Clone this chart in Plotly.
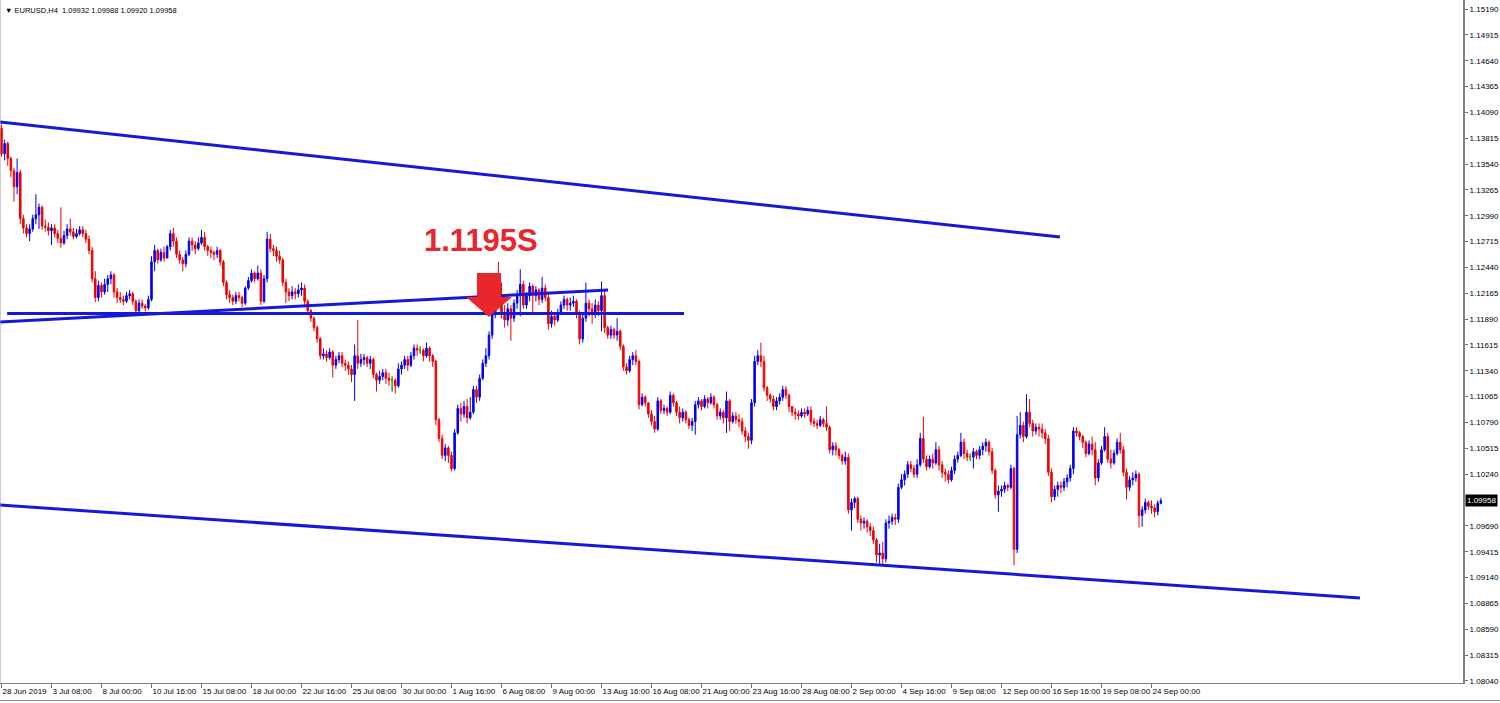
import plotly.graph_objects as go

# ---------------- DATA (EURUSD H4) ----------------
first_open = 1.1392

closes = [
    1.1365, 1.1376,                                    # 28 Jun
    1.1360, 1.1347, 1.1330, 1.1345, 1.1296, 1.1286,    # 1 Jul
    1.1280, 1.1285, 1.1296, 1.1300, 1.1308, 1.1288,    # 2 Jul
    1.1287, 1.1283, 1.1286, 1.1280, 1.1275, 1.1270,    # 3 Jul
    1.1278, 1.1285, 1.1282, 1.1277, 1.1280, 1.1284,    # 4 Jul
    1.1280, 1.1274, 1.1262, 1.1232, 1.1212, 1.1225,    # 5 Jul
    1.1218, 1.1226, 1.1232, 1.1236, 1.1218, 1.1212,    # 8 Jul
    1.1210, 1.1208, 1.1214, 1.1216, 1.1208, 1.1198,    # 9 Jul
    1.1206, 1.1203, 1.1201, 1.1210, 1.1250, 1.1262,    # 10 Jul
    1.1252, 1.1260, 1.1254, 1.1266, 1.1280, 1.1272,    # 11 Jul
    1.1258, 1.1252, 1.1248, 1.1258, 1.1272, 1.1268,    # 12 Jul
    1.1264, 1.1270, 1.1276, 1.1266, 1.1262, 1.1260,    # 15 Jul
    1.1258, 1.1262, 1.1250, 1.1228, 1.1215, 1.1212,    # 16 Jul
    1.1208, 1.1214, 1.1212, 1.1206, 1.1222, 1.1230,    # 17 Jul
    1.1238, 1.1232, 1.1238, 1.1208, 1.1232, 1.1274,    # 18 Jul
    1.1264, 1.1262, 1.1256, 1.1252, 1.1228, 1.1218,    # 19 Jul
    1.1214, 1.1218, 1.1216, 1.1220, 1.1222, 1.1208,    # 22 Jul
    1.1198, 1.1190, 1.1180, 1.1168, 1.1150, 1.1152,    # 23 Jul
    1.1148, 1.1154, 1.1140, 1.1146, 1.1150, 1.1142,    # 24 Jul
    1.1140, 1.1136, 1.1130, 1.1150, 1.1142, 1.1146,    # 25 Jul
    1.1148, 1.1142, 1.1146, 1.1130, 1.1124, 1.1128,    # 26 Jul
    1.1132, 1.1126, 1.1124, 1.1124, 1.1118, 1.1136,    # 29 Jul
    1.1140, 1.1146, 1.1140, 1.1150, 1.1158, 1.1156,    # 30 Jul
    1.1156, 1.1150, 1.1158, 1.1150, 1.1144, 1.1082,    # 31 Jul
    1.1062, 1.1044, 1.1052, 1.1044, 1.1030, 1.1068,    # 1 Aug
    1.1094, 1.1088, 1.1096, 1.1084, 1.1090, 1.1114,    # 2 Aug
    1.1106, 1.1126, 1.1142, 1.1150, 1.1172, 1.1194,    # 5 Aug
    1.1226, 1.1212, 1.1196, 1.1188, 1.1200, 1.1190,    # 6 Aug
    1.1206, 1.1214, 1.1226, 1.1204, 1.1214, 1.1224,    # 7 Aug
    1.1214, 1.1220, 1.1210, 1.1222, 1.1212, 1.1184,    # 8 Aug
    1.1192, 1.1188, 1.1196, 1.1204, 1.1210, 1.1204,    # 9 Aug
    1.1206, 1.1208, 1.1196, 1.1168, 1.1190, 1.1206,    # 12 Aug
    1.1200, 1.1194, 1.1204, 1.1198, 1.1214, 1.1180,    # 13 Aug
    1.1172, 1.1178, 1.1172, 1.1176, 1.1160, 1.1138,    # 14 Aug
    1.1134, 1.1146, 1.1150, 1.1144, 1.1098, 1.1106,    # 15 Aug
    1.1100, 1.1088, 1.1080, 1.1072, 1.1102, 1.1092,    # 16 Aug
    1.1094, 1.1090, 1.1108, 1.1100, 1.1090, 1.1084,    # 19 Aug
    1.1090, 1.1082, 1.1076, 1.1080, 1.1098, 1.1102,    # 20 Aug
    1.1096, 1.1104, 1.1100, 1.1106, 1.1098, 1.1086,    # 21 Aug
    1.1090, 1.1084, 1.1102, 1.1080, 1.1086, 1.1082,    # 22 Aug
    1.1080, 1.1070, 1.1064, 1.1060, 1.1100, 1.1144,    # 23 Aug
    1.1150, 1.1144, 1.1116, 1.1108, 1.1104, 1.1096,    # 26 Aug
    1.1102, 1.1106, 1.1114, 1.1108, 1.1096, 1.1090,    # 27 Aug
    1.1088, 1.1086, 1.1090, 1.1088, 1.1092, 1.1080,    # 28 Aug
    1.1078, 1.1076, 1.1082, 1.1078, 1.1074, 1.1050,    # 29 Aug
    1.1054, 1.1050, 1.1044, 1.1038, 1.1042, 1.0986,    # 30 Aug
    1.0994, 1.0998, 1.0976, 1.0972, 1.0974, 1.0968,    # 2 Sep
    1.0964, 1.0954, 1.0938, 1.0940, 1.0934, 1.0972,    # 3 Sep
    1.0974, 1.0978, 1.0976, 1.1010, 1.1018, 1.1024,    # 4 Sep
    1.1034, 1.1030, 1.1024, 1.1034, 1.1062, 1.1040,    # 5 Sep
    1.1032, 1.1040, 1.1036, 1.1050, 1.1034, 1.1026,    # 6 Sep
    1.1024, 1.1018, 1.1028, 1.1040, 1.1044, 1.1058,    # 9 Sep
    1.1046, 1.1042, 1.1042, 1.1048, 1.1044, 1.1050,    # 10 Sep
    1.1054, 1.1058, 1.1048, 1.1028, 1.1002, 1.1006,    # 11 Sep
    1.1008, 1.1012, 1.1010, 1.1030, 1.0944, 1.1066,    # 12 Sep
    1.1076, 1.1064, 1.1090, 1.1078, 1.1070, 1.1074,    # 13 Sep
    1.1072, 1.1068, 1.1062, 1.1026, 1.1000, 1.1008,    # 16 Sep
    1.1012, 1.1010, 1.1016, 1.1020, 1.1030, 1.1070,    # 17 Sep
    1.1068, 1.1064, 1.1058, 1.1046, 1.1056, 1.1050,    # 18 Sep
    1.1020, 1.1036, 1.1050, 1.1064, 1.1040, 1.1036,    # 19 Sep
    1.1046, 1.1058, 1.1050, 1.1026, 1.1010, 1.1018,    # 20 Sep
    1.1020, 1.1024, 1.0980, 1.0986, 1.0994, 1.0990,    # 23 Sep
    1.0988, 1.0984, 1.09932, 1.09958,                  # 24 Sep
]

highs = [
    1.1396, 1.1380,
    1.1378, 1.1362, 1.1350, 1.1360, 1.1348, 1.1300,
    1.1290, 1.1290, 1.1300, 1.1322, 1.1312, 1.1310,
    1.1295, 1.1292, 1.1290, 1.1290, 1.1284, 1.1308,
    1.1283, 1.1290, 1.1296, 1.1286, 1.1285, 1.1288,
    1.1288, 1.1284, 1.1278, 1.1266, 1.1240, 1.1230,
    1.1228, 1.1232, 1.1236, 1.1240, 1.1238, 1.1222,
    1.1218, 1.1214, 1.1218, 1.1220, 1.1218, 1.1210,
    1.1210, 1.1210, 1.1205, 1.1214, 1.1256, 1.1268,
    1.1264, 1.1264, 1.1266, 1.1268, 1.1284, 1.1286,
    1.1276, 1.1262, 1.1255, 1.1262, 1.1276, 1.1276,
    1.1272, 1.1276, 1.1284, 1.1282, 1.1268, 1.1266,
    1.1262, 1.1266, 1.1264, 1.1252, 1.1230, 1.1220,
    1.1215, 1.1218, 1.1218, 1.1214, 1.1224, 1.1234,
    1.1242, 1.1240, 1.1246, 1.1242, 1.1236, 1.1282,
    1.1280, 1.1268, 1.1266, 1.1262, 1.1254, 1.1232,
    1.1222, 1.1224, 1.1222, 1.1226, 1.1228, 1.1226,
    1.1210, 1.1200, 1.1192, 1.1182, 1.1170, 1.1158,
    1.1156, 1.1158, 1.1156, 1.1150, 1.1154, 1.1154,
    1.1146, 1.1144, 1.1140, 1.1162, 1.1188, 1.1152,
    1.1152, 1.1150, 1.1150, 1.1148, 1.1132, 1.1134,
    1.1136, 1.1136, 1.1132, 1.1128, 1.1126, 1.1142,
    1.1144, 1.1150, 1.1150, 1.1154, 1.1162, 1.1162,
    1.1160, 1.1158, 1.1164, 1.1160, 1.1152, 1.1146,
    1.1084, 1.1066, 1.1056, 1.1054, 1.1048, 1.1072,
    1.1098, 1.1100, 1.1102, 1.1104, 1.1106, 1.1118,
    1.1118, 1.1130, 1.1146, 1.1158, 1.1176, 1.1198,
    1.1238, 1.1250, 1.1228, 1.1204, 1.1206, 1.1204,
    1.1210, 1.1220, 1.1242, 1.1230, 1.1218, 1.1228,
    1.1226, 1.1224, 1.1222, 1.1234, 1.1226, 1.1216,
    1.1198, 1.1196, 1.1200, 1.1208, 1.1214, 1.1212,
    1.1212, 1.1214, 1.1210, 1.1198, 1.1194, 1.1228,
    1.1210, 1.1206, 1.1210, 1.1208, 1.1229, 1.1220,
    1.1182, 1.1182, 1.1180, 1.1190, 1.1178, 1.1162,
    1.1142, 1.1150, 1.1154, 1.1156, 1.1146, 1.1110,
    1.1108, 1.1100, 1.1092, 1.1086, 1.1106, 1.1104,
    1.1098, 1.1096, 1.1112, 1.1110, 1.1102, 1.1096,
    1.1094, 1.1092, 1.1084, 1.1084, 1.1102, 1.1106,
    1.1104, 1.1108, 1.1106, 1.1110, 1.1108, 1.1100,
    1.1094, 1.1092, 1.1112, 1.1104, 1.1090, 1.1090,
    1.1088, 1.1084, 1.1074, 1.1068, 1.1104, 1.1150,
    1.1156, 1.1164, 1.1150, 1.1118, 1.1110, 1.1108,
    1.1106, 1.1110, 1.1118, 1.1118, 1.1110, 1.1096,
    1.1094, 1.1092, 1.1094, 1.1094, 1.1096, 1.1096,
    1.1084, 1.1082, 1.1086, 1.1084, 1.1096, 1.1076,
    1.1058, 1.1058, 1.1052, 1.1046, 1.1048, 1.1046,
    1.0998, 1.1000, 1.1000, 1.0980, 1.0978, 1.0976,
    1.0972, 1.0968, 1.0956, 1.0950, 1.0952, 1.0976,
    1.0980, 1.0982, 1.0982, 1.1014, 1.1024, 1.1028,
    1.1038, 1.1038, 1.1034, 1.1040, 1.1068, 1.1085,
    1.1044, 1.1044, 1.1046, 1.1058, 1.1054, 1.1038,
    1.1030, 1.1028, 1.1032, 1.1044, 1.1048, 1.1068,
    1.1062, 1.1050, 1.1046, 1.1052, 1.1050, 1.1054,
    1.1058, 1.1062, 1.1060, 1.1052, 1.1030, 1.1012,
    1.1012, 1.1016, 1.1014, 1.1034, 1.1032, 1.1086,
    1.1090, 1.1080, 1.1109, 1.1104, 1.1082, 1.1078,
    1.1078, 1.1078, 1.1072, 1.1066, 1.1030, 1.1012,
    1.1016, 1.1016, 1.1020, 1.1024, 1.1034, 1.1074,
    1.1074, 1.1070, 1.1066, 1.1060, 1.1060, 1.1064,
    1.1058, 1.1040, 1.1054, 1.1074, 1.1068, 1.1050,
    1.1050, 1.1062, 1.1068, 1.1054, 1.1030, 1.1022,
    1.1026, 1.1028, 1.1026, 1.0990, 1.0998, 1.0996,
    1.0996, 1.0992, 1.0996, 1.09988,
]

lows = [
    1.1362, 1.1358,
    1.1352, 1.1340, 1.1314, 1.1322, 1.1290, 1.1280,
    1.1276, 1.1272, 1.1282, 1.1290, 1.1285, 1.1284,
    1.1282, 1.1278, 1.1268, 1.1276, 1.1270, 1.1265,
    1.1268, 1.1274, 1.1278, 1.1274, 1.1275, 1.1278,
    1.1276, 1.1270, 1.1258, 1.1228, 1.1207, 1.1208,
    1.1212, 1.1215, 1.1218, 1.1226, 1.1212, 1.1206,
    1.1206, 1.1204, 1.1206, 1.1210, 1.1204, 1.1193,
    1.1196, 1.1200, 1.1197, 1.1199, 1.1208, 1.1240,
    1.1248, 1.1250, 1.1250, 1.1255, 1.1262, 1.1266,
    1.1254, 1.1248, 1.1240, 1.1244, 1.1256, 1.1262,
    1.1258, 1.1262, 1.1268, 1.1262, 1.1256, 1.1254,
    1.1252, 1.1254, 1.1246, 1.1224, 1.1210, 1.1206,
    1.1204, 1.1205, 1.1208, 1.1202, 1.1204, 1.1220,
    1.1228, 1.1228, 1.1230, 1.1204, 1.1206, 1.1228,
    1.1260, 1.1256, 1.1250, 1.1248, 1.1224, 1.1206,
    1.1208, 1.1210, 1.1210, 1.1212, 1.1214, 1.1204,
    1.1194, 1.1186, 1.1176, 1.1164, 1.1146, 1.1146,
    1.1144, 1.1146, 1.1127, 1.1136, 1.1142, 1.1138,
    1.1134, 1.1130, 1.1122, 1.1102, 1.1136, 1.1138,
    1.1140, 1.1138, 1.1136, 1.1126, 1.1112, 1.1120,
    1.1124, 1.1120, 1.1118, 1.1112, 1.1110, 1.1116,
    1.1130, 1.1136, 1.1134, 1.1138, 1.1146, 1.1150,
    1.1152, 1.1144, 1.1148, 1.1144, 1.1138, 1.1076,
    1.1058, 1.1040, 1.1038, 1.1036, 1.1027, 1.1028,
    1.1066, 1.1080, 1.1084, 1.1078, 1.1082, 1.1088,
    1.1100, 1.1102, 1.1124, 1.1138, 1.1146, 1.1168,
    1.1190, 1.1208, 1.1190, 1.1180, 1.1182, 1.1166,
    1.1186, 1.1200, 1.1192, 1.1200, 1.1200, 1.1208,
    1.1196, 1.1208, 1.1204, 1.1206, 1.1208, 1.1178,
    1.1180, 1.1182, 1.1186, 1.1194, 1.1200, 1.1198,
    1.1198, 1.1202, 1.1190, 1.1162, 1.1164, 1.1186,
    1.1192, 1.1184, 1.1190, 1.1192, 1.1176, 1.1174,
    1.1168, 1.1168, 1.1168, 1.1166, 1.1156, 1.1134,
    1.1130, 1.1132, 1.1140, 1.1140, 1.1093, 1.1096,
    1.1096, 1.1084, 1.1076, 1.1068, 1.1070, 1.1088,
    1.1088, 1.1086, 1.1088, 1.1096, 1.1086, 1.1078,
    1.1080, 1.1078, 1.1072, 1.1070, 1.1066, 1.1094,
    1.1092, 1.1094, 1.1094, 1.1098, 1.1094, 1.1082,
    1.1082, 1.1078, 1.1068, 1.1070, 1.1078, 1.1078,
    1.1074, 1.1066, 1.1058, 1.1051, 1.1056, 1.1096,
    1.1140, 1.1138, 1.1112, 1.1102, 1.1100, 1.1092,
    1.1092, 1.1098, 1.1102, 1.1104, 1.1090, 1.1086,
    1.1082, 1.1082, 1.1084, 1.1084, 1.1086, 1.1076,
    1.1074, 1.1072, 1.1074, 1.1074, 1.1070, 1.1046,
    1.1044, 1.1044, 1.1040, 1.1034, 1.1034, 1.0982,
    1.0964, 1.0988, 1.0972, 1.0964, 1.0966, 1.0962,
    1.0958, 1.0950, 1.0930, 1.0928, 1.0926, 1.0930,
    1.0966, 1.0970, 1.0970, 1.0972, 1.1008, 1.1012,
    1.1020, 1.1026, 1.1020, 1.1020, 1.1032, 1.1036,
    1.1028, 1.1030, 1.1030, 1.1034, 1.1028, 1.1020,
    1.1016, 1.1014, 1.1016, 1.1024, 1.1036, 1.1042,
    1.1040, 1.1038, 1.1038, 1.1030, 1.1040, 1.1040,
    1.1044, 1.1048, 1.1044, 1.1024, 1.0998, 1.0984,
    1.1000, 1.1004, 1.1006, 1.1008, 1.0927, 1.0940,
    1.1062, 1.1058, 1.1062, 1.1074, 1.1064, 1.1066,
    1.1064, 1.1062, 1.1056, 1.1022, 1.0994, 1.0996,
    1.1000, 1.1004, 1.1006, 1.1010, 1.1016, 1.1024,
    1.1064, 1.1060, 1.1052, 1.1042, 1.1044, 1.1044,
    1.1012, 1.1016, 1.1034, 1.1048, 1.1036, 1.1030,
    1.1034, 1.1044, 1.1046, 1.1022, 1.0997, 1.1006,
    1.1012, 1.1016, 1.0967, 1.0968, 1.0982, 1.0986,
    1.0982, 1.0978, 1.0980, 1.09920,
]

# bar index of each time-axis label and its text
tick_bars = [0, 16, 32, 48, 64, 80, 96, 112, 128, 144, 160, 176,
             192, 208, 224, 240, 256, 272, 288, 304, 320, 336, 352, 368]
tick_labels = ["28 Jun 2019", "3 Jul 08:00", "8 Jul 00:00", "10 Jul 16:00",
               "15 Jul 08:00", "18 Jul 00:00", "22 Jul 16:00", "25 Jul 08:00",
               "30 Jul 00:00", "1 Aug 16:00", "6 Aug 08:00", "9 Aug 00:00",
               "13 Aug 16:00", "16 Aug 08:00", "21 Aug 00:00", "23 Aug 16:00",
               "28 Aug 08:00", "2 Sep 00:00", "4 Sep 16:00", "9 Sep 08:00",
               "12 Sep 00:00", "16 Sep 16:00", "19 Sep 08:00", "24 Sep 00:00"]

price_ticks = [1.08040, 1.08315, 1.08590, 1.08865, 1.09140, 1.09415, 1.09690,
               1.10240, 1.10515, 1.10790, 1.11065, 1.11340, 1.11615, 1.11890,
               1.12165, 1.12440, 1.12715, 1.12990, 1.13265, 1.13540, 1.13815,
               1.14090, 1.14365, 1.14640, 1.14915, 1.15190]

# trend lines: (bar0, price0, bar1, price1)
channel_top = (-0.5, 1.13988, 338.7, 1.12764)
channel_bottom = (-0.5, 1.09912, 434.7, 1.08923)
level_line = (1.8, 1.1195, 218.4, 1.1195)
rising_line = (-0.5, 1.11860, 194.1, 1.12200)

level_text = "1.1195S"
symbol = "EURUSD,H4"

# ---------------- BUILD ----------------
n = len(closes)
if not (len(highs) == n and len(lows) == n):
    raise ValueError(f"length mismatch {n} {len(highs)} {len(lows)}")

opens = [first_open] + closes[:-1]
highs = [max(h, o, c) for h, o, c in zip(highs, opens, closes)]
lows = [min(l, o, c) for l, o, c in zip(lows, opens, closes)]
bars = list(range(n))

BLUE = "#0000f0"
RED = "#f00000"
LINE_BLUE = "#1717d8"
ARROW_RED = "#e8262b"
FONT = "Liberation Sans, Arial, sans-serif"

fig = go.Figure()
fig.add_trace(go.Candlestick(
    x=bars, open=opens, high=highs, low=lows, close=closes,
    increasing=dict(line=dict(color=BLUE, width=1), fillcolor=BLUE),
    decreasing=dict(line=dict(color=RED, width=1), fillcolor=RED),
    whiskerwidth=0, showlegend=False, hoverinfo="skip",
))

doji = [i for i in bars if opens[i] == closes[i]]
if doji:
    fig.add_trace(go.Candlestick(
        x=doji, open=[opens[i] for i in doji], high=[highs[i] for i in doji],
        low=[lows[i] for i in doji], close=[closes[i] for i in doji],
        increasing=dict(line=dict(color="#00c800", width=1), fillcolor="#00c800"),
        decreasing=dict(line=dict(color="#00c800", width=1), fillcolor="#00c800"),
        whiskerwidth=0, showlegend=False, hoverinfo="skip",
    ))

shapes = []
for (x0, y0, x1, y1) in (channel_top, channel_bottom, level_line, rising_line):
    shapes.append(dict(type="line", xref="x", yref="y", x0=x0, y0=y0, x1=x1, y1=y1,
                       line=dict(color=LINE_BLUE, width=3)))

# red down arrow pointing at the 1.1195 level
tip_x, tip_y = 156.0, 1.11913
head_y, top_y = 1.12126, 1.12381
shaft_half, head_half = 3.85, 7.35
arrow_path = (f"M {tip_x - shaft_half} {top_y} L {tip_x + shaft_half} {top_y} "
              f"L {tip_x + shaft_half} {head_y} L {tip_x + head_half} {head_y} "
              f"L {tip_x} {tip_y} L {tip_x - head_half} {head_y} "
              f"L {tip_x - shaft_half} {head_y} Z")
shapes.append(dict(type="path", xref="x", yref="y", path=arrow_path,
                   fillcolor=ARROW_RED, line=dict(color=ARROW_RED, width=0)))

# frame lines
shapes.append(dict(type="line", xref="paper", yref="paper", x0=0, x1=0, y0=0, y1=1,
                   line=dict(color="#a0a0a0", width=1)))
shapes.append(dict(type="line", xref="paper", yref="paper", x0=0, x1=1.0253,
                   y0=-0.0256, y1=-0.0256, line=dict(color="#909090", width=1)))

annotations = [
    dict(text=level_text, xref="x", yref="y", x=153.4, y=1.12732,
         showarrow=False, xanchor="center", yanchor="middle",
         font=dict(family=FONT, size=31, color=ARROW_RED, weight="bold")),
    dict(text=f"\u25BC {symbol}  {opens[-1]:.5f} {highs[-1]:.5f} {lows[-1]:.5f} {closes[-1]:.5f}",
         xref="paper", yref="paper", x=0, y=1, xshift=3, yshift=-4,
         xanchor="left", yanchor="top", showarrow=False,
         font=dict(family=FONT, size=7.5, color="#000000")),
    dict(text=f"{closes[-1]:.5f}", xref="paper", yref="y", x=1, y=closes[-1],
         xshift=2, xanchor="left", yanchor="middle", showarrow=False,
         bgcolor="#000000", borderpad=1,
         font=dict(family=FONT, size=8, color="#ffffff")),
]

fig.update_layout(
    width=1500, height=703,
    margin=dict(l=0, r=37, t=0, b=20, autoexpand=False),
    paper_bgcolor="#ffffff", plot_bgcolor="#ffffff",
    shapes=shapes, annotations=annotations, showlegend=False,
    hovermode=False,
    xaxis=dict(
        range=[-0.48, 467.68], rangeslider=dict(visible=False),
        tickmode="array", tickvals=tick_bars, ticktext=tick_labels,
        ticks="outside", ticklen=4, tickcolor="#707070", tickangle=0,
        ticklabelposition="outside right",
        tickfont=dict(family=FONT, size=8, color="#000000"),
        showgrid=False, zeroline=False, showline=True, linecolor="#808080", linewidth=1,
        fixedrange=True,
    ),
    yaxis=dict(
        side="right", range=[1.08018, 1.15286],
        tickmode="array", tickvals=price_ticks,
        ticktext=[f"{v:.5f}" for v in price_ticks],
        ticks="outside", ticklen=3, tickcolor="#707070",
        tickfont=dict(family=FONT, size=8, color="#000000"),
        showgrid=False, zeroline=False, showline=True, linecolor="#808080", linewidth=2,
        fixedrange=True,
    ),
)

fig.write_html(
    "out.html",
    config={"displayModeBar": False, "staticPlot": True},
    post_script="document.body.style.margin='0';document.body.style.overflow='hidden';",
)
